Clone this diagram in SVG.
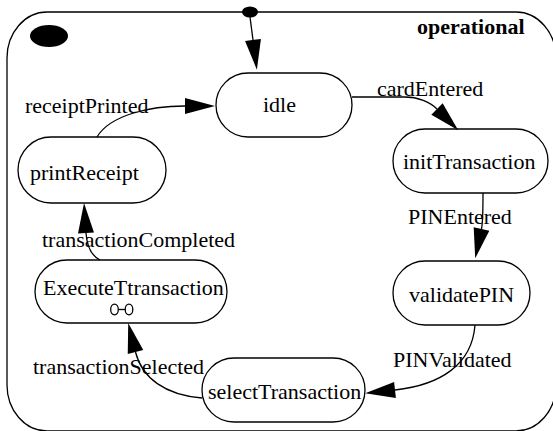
<svg xmlns="http://www.w3.org/2000/svg" width="553" height="431" viewBox="0 0 553 431">
<defs>
<style>
.st{fill:#fff;stroke:#000;stroke-width:1.3}
.t{font-family:"Liberation Serif","Times New Roman",serif;font-size:22px;fill:#000}
.b{font-weight:bold}
.c{fill:none;stroke:#000;stroke-width:1.3}
</style>
<marker id="ah" markerUnits="userSpaceOnUse" markerWidth="31" markerHeight="17" refX="0" refY="8" orient="auto" overflow="visible">
<path d="M0,0 L30,8 L0,16 z" fill="#000"/>
</marker>
</defs>
<rect width="553" height="431" fill="#fff"/>
<g id="operational">
<rect x="7" y="12" width="549" height="419" rx="40" ry="46" class="st"/>
<ellipse cx="49" cy="36" rx="19" ry="11" fill="#000"/>
<text x="417" y="34" class="t b">operational</text>
</g>
<g id="initial">
<ellipse cx="250" cy="12" rx="8" ry="5.5" fill="#000"/>
</g>
<g id="idle">
<rect x="216" y="73" width="136" height="64" rx="32" class="st"/>
<text x="263" y="112" class="t">idle</text>
</g>
<g id="initTransaction">
<rect x="393" y="129" width="155" height="64" rx="32" class="st"/>
<text x="403" y="169" class="t">initTransaction</text>
</g>
<g id="validatePIN">
<rect x="393" y="261" width="137" height="64" rx="32" class="st"/>
<text x="409" y="302" class="t">validatePIN</text>
</g>
<g id="selectTransaction">
<rect x="202" y="358" width="163" height="64" rx="32" class="st"/>
<text x="208" y="399" class="t">selectTransaction</text>
</g>
<g id="ExecuteTtransaction">
<rect x="35" y="260" width="192" height="63" rx="32" class="st"/>
<text x="43" y="295" class="t">ExecuteTtransaction</text>
<ellipse cx="114.5" cy="309.5" rx="3.8" ry="5.3" class="c"/>
<ellipse cx="129" cy="309.5" rx="3.8" ry="5.3" class="c"/>
<line x1="118.3" y1="309.5" x2="125.2" y2="309.5" class="c"/>
</g>
<g id="printReceipt">
<rect x="18" y="137" width="148" height="66" rx="33" class="st"/>
<text x="30" y="180" class="t">printReceipt</text>
</g>
<g id="connectors">
<path d="M250,17 L253,40" class="c" marker-end="url(#ah)"/>
<path d="M352,97 L405,97 C418,97 430,102 437,109" class="c" marker-end="url(#ah)"/>
<text x="377" y="96" class="t">cardEntered</text>
<path d="M483,193 C483,215 483,222 481.5,229" class="c" marker-end="url(#ah)"/>
<text x="408" y="224" class="t">PINEntered</text>
<path d="M475,325 C472,365 440,385 395,390" class="c" marker-end="url(#ah)"/>
<text x="393" y="367" class="t">PINValidated</text>
<path d="M202,398 C165,395 142,378 135.5,352" class="c" marker-end="url(#ah)"/>
<text x="33" y="374" class="t">transactionSelected</text>
<path d="M100,260 C92,256 87,248 86,233" class="c" marker-end="url(#ah)"/>
<text x="42" y="247" class="t">transactionCompleted</text>
<path d="M97,137 C110,115 150,106 185,106" class="c" marker-end="url(#ah)"/>
<text x="25" y="113" class="t">receiptPrinted</text>
</g>
</svg>
